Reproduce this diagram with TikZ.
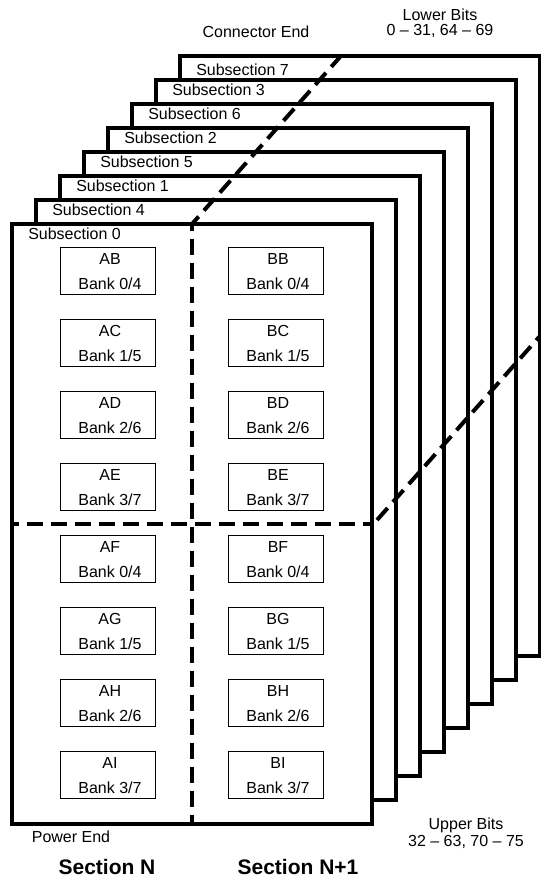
\documentclass[tikz,border=0pt]{standalone}
\usepackage{fontspec}
\setmainfont{Liberation Sans}
\begin{document}
\begin{tikzpicture}[x=0.75pt, y=-0.75pt, font=\fontsize{12}{14}\selectfont]
    \tikzset{
        subsec_box/.style={line width=2.7pt, fill=white, line join=miter},
        cut_line/.style={line width=3pt, dash pattern=on 12pt off 6pt},
        bank_box/.style={draw, line width=0.75pt, fill=white, minimum width=71.5pt, minimum height=35.5pt, inner sep=0pt},
        txt/.style={inner sep=0pt, align=center},
        sec_title/.style={inner sep=0pt, font=\fontsize{15.75}{18}\selectfont\bfseries}
    }
    \useasboundingbox (0, 0) rectangle (540, 882);

    % stack, back to front
    \foreach \i/\sub/\ty in {7/7/70, 6/3/90, 5/6/114, 4/2/138, 3/5/162, 2/1/186, 1/4/210, 0/0/234} {
        \draw[subsec_box] (12+24*\i, 224-24*\i) rectangle (372+24*\i, 824-24*\i);
        \node[txt, anchor=west] (sub\sub) at (28+24*\i, \ty) {Subsection \sub};
    }

    % banks
    \foreach \sec/\x in {A/108, B/276} {
        \foreach \row/\lo/\hi [count=\n from 0] in {B/0/4, C/1/5, D/2/6, E/3/7, F/0/4, G/1/5, H/2/6, I/3/7} {
            \node[bank_box] (\sec\row) at (\x, 271+72*\n) {};
            \node[txt] (\sec\row_name) at (\x+2, 259+72*\n) {\sec\row};
            \node[txt] (\sec\row_bank) at (\x+2, 284+72*\n) {Bank \lo/\hi};
        }
    }

    \coordinate (V_bot) at (192, 824);
    \coordinate (V_top) at (192, 224);
    \coordinate (H_r) at (372, 524);
    \coordinate (H_l) at (12, 524);
    \coordinate (D1_end) at (340, 57);
    \coordinate (D2_start) at (377, 520);
    \coordinate (D2_end) at (540, 336);
    \draw[cut_line, dash phase=5.25pt] (V_bot) -- (V_top);
    \draw[cut_line, dash phase=5.25pt] (H_r) -- (H_l);
    \draw[cut_line, dash phase=4.5pt] (V_top) -- (D1_end);
    \draw[cut_line] (D2_start) -- (D2_end);

    \node[txt] (conn_end) at (256, 32) {Connector End};
    \node[txt] (lower_bits) at (440, 15) {Lower Bits};
    \node[txt] (lower_nums) at (440, 31) {0 -- 31, 64 -- 69};
    \node[txt] (power_end) at (71, 837) {Power End};
    \node[txt] (upper_bits) at (466, 825) {Upper Bits};
    \node[txt] (upper_nums) at (466, 842) {32 -- 63, 70 -- 75};
    \node[sec_title] (sec_n) at (107, 867) {Section N};
    \node[sec_title] (sec_n1) at (298, 867) {Section N+1};
\end{tikzpicture}
\end{document}
